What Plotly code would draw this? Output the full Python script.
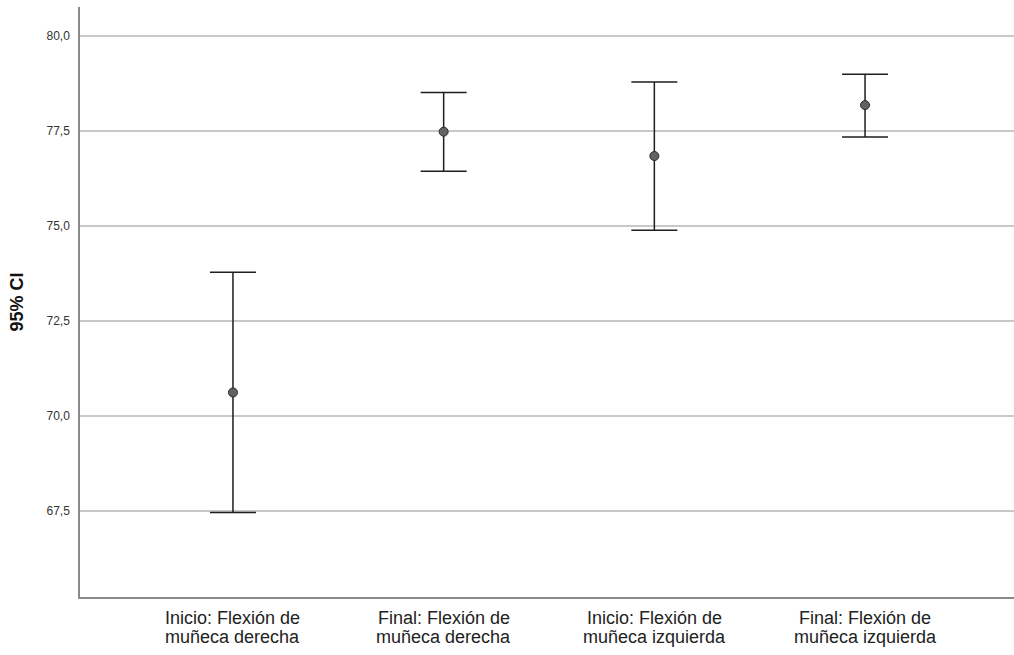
import plotly.graph_objects as go

# Mean and 95% confidence interval for each measurement
line1 = ["Inicio: Flexión de", "Final: Flexión de", "Inicio: Flexión de", "Final: Flexión de"]
line2 = ["muñeca derecha", "muñeca derecha", "muñeca izquierda", "muñeca izquierda"]
means = [70.62, 77.48, 76.84, 78.18]
ci_upper = [73.78, 78.51, 78.79, 78.99]
ci_lower = [67.46, 76.44, 74.89, 77.34]

y_ticks = [67.5, 70.0, 72.5, 75.0, 77.5, 80.0]

x_idx = list(range(len(line1)))
err_plus = [u - m for u, m in zip(ci_upper, means)]
err_minus = [m - l for m, l in zip(means, ci_lower)]

fig = go.Figure()
fig.add_trace(go.Scatter(
    x=x_idx,
    y=means,
    mode="markers",
    marker=dict(size=9, color="#626262", line=dict(color="#2a2a2a", width=1)),
    error_y=dict(
        type="data",
        symmetric=False,
        array=err_plus,
        arrayminus=err_minus,
        color="#1e1e1e",
        thickness=1.5,
        width=23,
    ),
    showlegend=False,
))

# Two-line category labels with tight line spacing
label_font = dict(family="Liberation Sans, Arial, sans-serif", size=18, color="#222")
for i in x_idx:
    fig.add_annotation(x=i, xref="x", y=0, yref="paper", text=line1[i],
                       showarrow=False, yanchor="middle", yshift=-21, font=label_font)
    fig.add_annotation(x=i, xref="x", y=0, yref="paper", text=line2[i],
                       showarrow=False, yanchor="middle", yshift=-40, font=label_font)

fig.update_layout(
    width=1014,
    height=655,
    margin=dict(l=80, r=0, t=7, b=58),
    paper_bgcolor="white",
    plot_bgcolor="white",
    separators=",.",
    font=dict(family="Liberation Sans, Arial, sans-serif", color="#222"),
)

fig.update_xaxes(
    range=[-0.726, 3.707],
    tickvals=x_idx,
    showticklabels=False,
    showgrid=False,
    zeroline=False,
    showline=True,
    linecolor="#8a8a8a",
    linewidth=1.5,
    ticks="",
)

fig.update_yaxes(
    range=[65.24, 80.76],
    tickvals=y_ticks,
    tickformat=".1f",
    tickfont=dict(size=12, color="#333"),
    ticklabelstandoff=6,
    showgrid=True,
    gridcolor="#c8c8c8",
    gridwidth=1.5,
    zeroline=False,
    showline=True,
    linecolor="#8a8a8a",
    linewidth=1.5,
    ticks="",
    title=dict(text="<b>95% CI</b>", font=dict(size=18, color="#111"), standoff=18),
)

fig.write_html("out.html")
